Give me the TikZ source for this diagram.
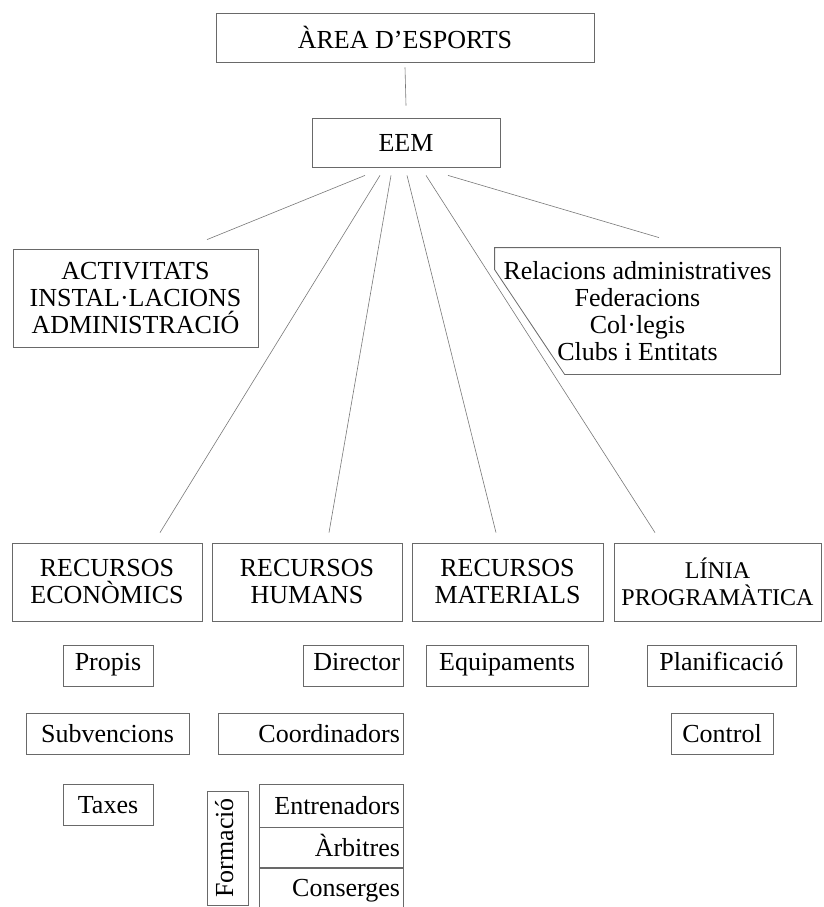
\documentclass[tikz,border=0pt]{standalone}
\usepackage{fontspec}
\setmainfont{Liberation Serif}
\usepackage{tikz}
\usetikzlibrary{positioning}
\definecolor{scangray}{RGB}{105,105,105}
\definecolor{linkgray}{RGB}{120,120,120}
\tikzstyle{mainbox} = [draw=scangray, line width=0.8pt, inner sep=0pt, align=center, font=\fontsize{26}{27}\selectfont]
\tikzstyle{subbox} = [mainbox, minimum height=41pt, text height=17pt, text depth=0pt]
\tikzstyle{toprow} = [text depth=8pt]
\tikzstyle{rightbox} = [subbox, align=right, inner xsep=3pt]
\tikzstyle{link} = [draw=linkgray, line width=0.6pt]

\begin{document}
\begin{tikzpicture}[x=1pt, y=-1pt]
\useasboundingbox (0,0) rectangle (823,907);

% Top levels
\node[mainbox, minimum width=378pt, minimum height=49pt] (area) at (405,37.5) {ÀREA D’ESPORTS};
\node[mainbox, minimum width=188pt, minimum height=49pt] (eem) at (406,142.5) {EEM};

% Side boxes
\node[mainbox, minimum width=245pt, minimum height=98pt] (act) at (135.5,298) {ACTIVITATS\\INSTAL·LACIONS\\ADMINISTRACIÓ};
\node[mainbox, draw=none, minimum width=285pt, minimum height=126pt] (rel) at (637.5,311) {Relacions administratives\\Federacions\\Col·legis\\Clubs i Entitats};
\draw[draw=scangray, line width=0.8pt] (rel.north west) -- (rel.north east) -- (rel.south east)
  -- ([xshift=70pt]rel.south west) -- ([yshift=-22pt]rel.north west) -- cycle;

% Resources row
\node[mainbox, minimum width=190pt, minimum height=78pt] (eco) at (107,582) {RECURSOS\\ECONÒMICS};
\node[mainbox, minimum width=190pt, minimum height=78pt] (hum) at (307,582) {RECURSOS\\HUMANS};
\node[mainbox, minimum width=191pt, minimum height=78pt] (mat) at (507.5,582) {RECURSOS\\MATERIALS};
\node[mainbox, minimum width=207pt, minimum height=78pt, font=\fontsize{24}{27}\selectfont] (lin) at (717.5,582) {LÍNIA\\PROGRAMÀTICA};

% Economic
\node[subbox, toprow, minimum width=90pt] (propis) at (108,665.5) {Propis};
\node[subbox, minimum width=163pt] (subv) at (107.5,734) {Subvencions};
\node[subbox, minimum width=90pt] (taxes) at (108,805) {Taxes};

% Human
\node[rightbox, toprow, text width=94pt] (director) at (353,665.5) {Director};
\node[rightbox, text width=179pt] (coord) at (310.5,734) {Coordinadors};
\node[subbox, rotate=90, minimum width=114pt, text depth=6pt] (formacio) at (227.5,848) {Formació};
\node[rightbox, text width=138pt, minimum height=43pt] (entren) at (331,805.5) {Entrenadors};
\node[rightbox, text width=138pt, minimum height=40pt, below=0pt of entren] (arbit) {Àrbitres};
\node[rightbox, text width=138pt, minimum height=39pt, below=0pt of arbit] (conser) {Conserges};

% Material and programme
\node[subbox, toprow, minimum width=162pt] (equip) at (507,665.5) {Equipaments};
\node[subbox, toprow, minimum width=149pt] (plan) at (721.5,665.5) {Planificació};
\node[subbox, minimum width=102pt] (control) at (722,733.5) {Control};

% Connectors
\draw[link] ([yshift=-5pt]area.south) -- ([yshift=12pt]eem.north);
\draw[link] ([xshift=-41pt,yshift=-8pt]eem.south) -- ([xshift=71.5pt,yshift=9pt]act.north);
\draw[link] ([xshift=-26pt,yshift=-8pt]eem.south) -- ([xshift=53pt,yshift=10pt]eco.north);
\draw[link] ([xshift=-15pt,yshift=-8pt]eem.south) -- ([xshift=22pt,yshift=10pt]hum.north);
\draw[link] ([xshift=1pt,yshift=-8pt]eem.south) -- ([xshift=-11.5pt,yshift=10pt]mat.north);
\draw[link] ([xshift=20pt,yshift=-8pt]eem.south) -- ([xshift=-62.5pt,yshift=10pt]lin.north);
\draw[link] ([xshift=42pt,yshift=-8pt]eem.south) -- ([xshift=21.5pt,yshift=10pt]rel.north);
\end{tikzpicture}
\end{document}
